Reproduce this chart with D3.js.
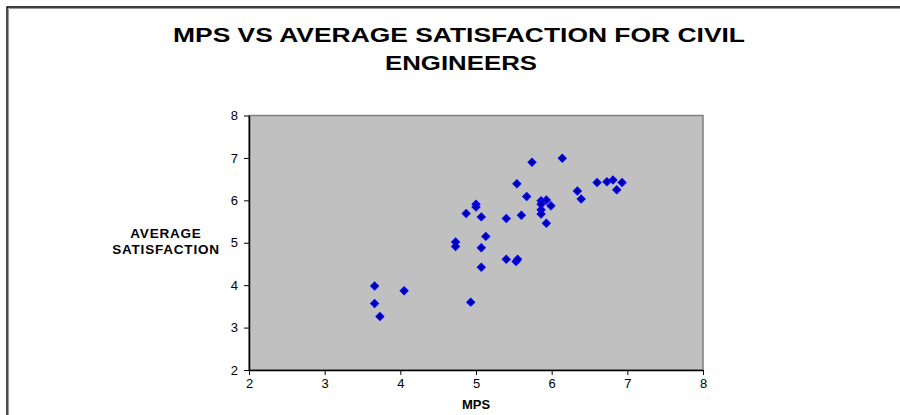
<!DOCTYPE html>
<html>
<head>
<meta charset="utf-8">
<script src="https://cdn.jsdelivr.net/npm/d3@7"></script>
<style>
  html, body { margin: 0; padding: 0; background: #fff; overflow: hidden; }
  svg { display: block; }
</style>
</head>
<body>
<svg id="chart" width="900" height="415"></svg>
<script>
const titleLines = ["MPS VS AVERAGE SATISFACTION FOR CIVIL", "ENGINEERS"];
const yLabelLines = ["AVERAGE", "SATISFACTION"];
const xLabel = "MPS";
const xTicks = [2, 3, 4, 5, 6, 7, 8];
const yTicks = [2, 3, 4, 5, 6, 7, 8];

// MPS score per engineer
const mps = [
  3.66, 3.66, 3.73, 4.05, 4.93, 4.73, 4.73, 4.87, 5.0, 5.0,
  5.07, 5.13, 5.07, 5.07, 5.40, 5.40, 5.53, 5.55, 5.54, 5.60,
  5.67, 5.74, 5.86, 5.93, 5.86, 5.99, 5.86, 5.86, 5.93, 6.14,
  6.34, 6.39, 6.60, 6.73, 6.81, 6.93, 6.86
];
// average satisfaction per engineer
const satisfaction = [
  3.98, 3.57, 3.26, 3.87, 3.60, 5.02, 4.91, 5.69, 5.91, 5.84,
  5.61, 5.15, 4.88, 4.42, 5.57, 4.61, 4.56, 4.61, 6.39, 5.65,
  6.09, 6.90, 5.99, 6.01, 5.91, 5.87, 5.78, 5.68, 5.46, 6.99,
  6.22, 6.03, 6.42, 6.44, 6.48, 6.42, 6.25
];

const points = mps.map((m, i) => ({ x: m, y: satisfaction[i] }));

const svg = d3.select("#chart");

// chart frame: only top and left edges fall inside the window
svg.append("path")
  .attr("d", "M8.5,420 V8.5 H905")
  .attr("fill", "none")
  .attr("stroke", "#999")
  .attr("stroke-width", 1);
svg.append("path")
  .attr("d", "M7,420 V7 H905")
  .attr("fill", "none")
  .attr("stroke", "#000")
  .attr("stroke-width", 1.4);

const margin = { left: 249, top: 115.5, right: 703, bottom: 370 };

const x = d3.scaleLinear().domain([2, 8]).range([margin.left, margin.right]);
const y = d3.scaleLinear().domain([2, 8]).range([margin.bottom, margin.top]);

// plot area
svg.append("rect")
  .attr("x", x(2)).attr("y", y(8))
  .attr("width", x(8) - x(2)).attr("height", y(2) - y(8))
  .attr("fill", "#c0c0c0")
  .attr("stroke", "#808080")
  .attr("stroke-width", 1.5);

const axisFont = "Liberation Sans, Arial, sans-serif";

const gx = svg.append("g")
  .attr("transform", `translate(0,${y(2)})`)
  .call(d3.axisBottom(x).tickValues(xTicks).tickFormat(d3.format("d"))
    .tickSize(5).tickPadding(4).tickSizeOuter(0));
const gy = svg.append("g")
  .attr("transform", `translate(${x(2)},0)`)
  .call(d3.axisLeft(y).tickValues(yTicks).tickFormat(d3.format("d"))
    .tickSize(5).tickPadding(6).tickSizeOuter(0));

[gx, gy].forEach((g) => {
  g.selectAll(".domain").attr("stroke", "#000").attr("stroke-width", 1.5);
  g.selectAll(".tick line").attr("stroke", "#000").attr("stroke-width", 1);
  g.selectAll("text")
    .attr("fill", "#000")
    .attr("font-family", axisFont)
    .attr("font-size", 13);
});

// markers: diamonds
const diamond = d3.symbol().type(d3.symbolSquare).size(26);
svg.append("g")
  .selectAll("path")
  .data(points)
  .enter()
  .append("path")
  .attr("d", diamond)
  .attr("transform", (d) => `translate(${x(d.x)},${y(d.y)}) rotate(45)`)
  .attr("fill", "#000080")
  .attr("stroke", "#0000ff")
  .attr("stroke-width", 1.6);

// title
const titleWidths = [572, 152];
svg.append("g")
  .selectAll("text")
  .data(titleLines)
  .enter()
  .append("text")
  .attr("x", (d, i) => (i === 0 ? 459 : 461))
  .attr("y", (d, i) => 42 + i * 28)
  .attr("text-anchor", "middle")
  .attr("font-family", axisFont)
  .attr("font-weight", "bold")
  .attr("font-size", 21)
  .attr("textLength", (d, i) => titleWidths[i])
  .attr("lengthAdjust", "spacingAndGlyphs")
  .text((d) => d);

// y axis label
svg.append("g")
  .selectAll("text")
  .data(yLabelLines)
  .enter()
  .append("text")
  .attr("x", 166)
  .attr("y", (d, i) => 238 + i * 16)
  .attr("text-anchor", "middle")
  .attr("font-family", axisFont)
  .attr("font-weight", "bold")
  .attr("font-size", 13.5)
  .attr("letter-spacing", 0.8)
  .text((d) => d);

// x axis label
svg.append("text")
  .attr("x", x(5))
  .attr("y", 409)
  .attr("text-anchor", "middle")
  .attr("font-family", axisFont)
  .attr("font-weight", "bold")
  .attr("font-size", 13)
  .text(xLabel);
</script>
</body>
</html>
